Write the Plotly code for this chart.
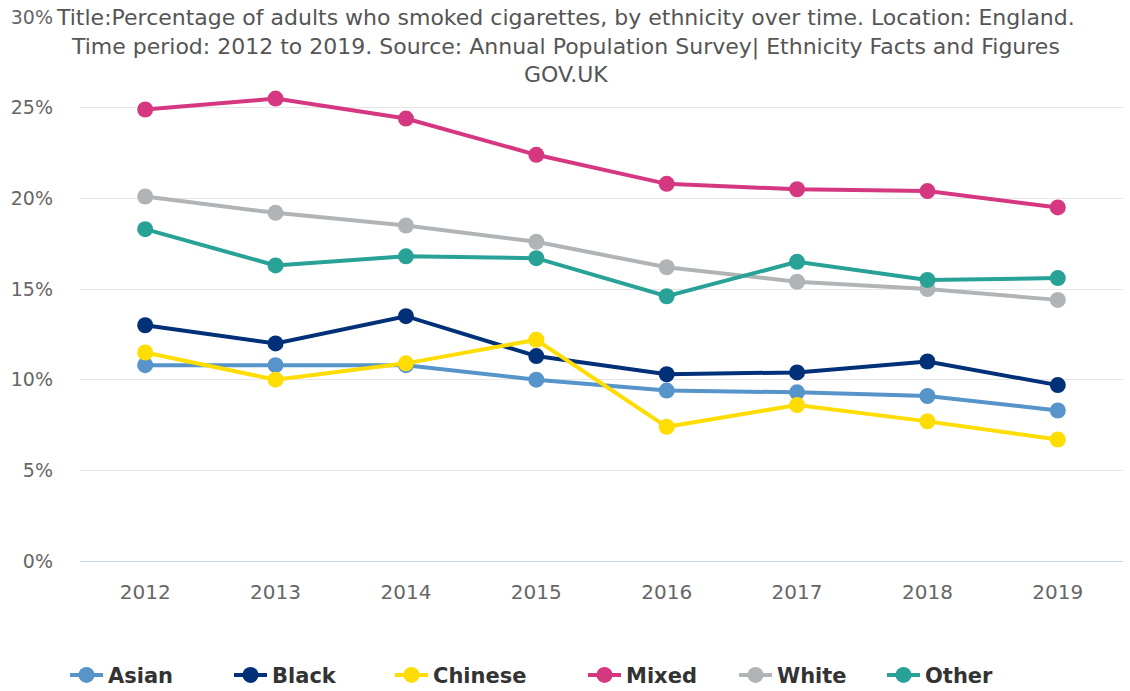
import plotly.graph_objects as go

years = ["2012", "2013", "2014", "2015", "2016", "2017", "2018", "2019"]
asian = [10.8, 10.8, 10.8, 10.0, 9.4, 9.3, 9.1, 8.3]
black = [13.0, 12.0, 13.5, 11.3, 10.3, 10.4, 11.0, 9.7]
chinese = [11.5, 10.0, 10.9, 12.2, 7.4, 8.6, 7.7, 6.7]
mixed = [24.9, 25.5, 24.4, 22.4, 20.8, 20.5, 20.4, 19.5]
white = [20.1, 19.2, 18.5, 17.6, 16.2, 15.4, 15.0, 14.4]
other = [18.3, 16.3, 16.8, 16.7, 14.6, 16.5, 15.5, 15.6]

series = [
    ("Asian", asian, "#5694ca"),
    ("Black", black, "#003078"),
    ("Chinese", chinese, "#ffdd00"),
    ("Mixed", mixed, "#d53880"),
    ("White", white, "#b1b4b6"),
    ("Other", other, "#28a197"),
]
# left pixel of each legend entry (symbol start)
legend_px = [70, 234, 395, 588, 739, 887]

PL, PR = 80, 1123
PW = PR - PL
FONT = "DejaVu Sans"

fig = go.Figure()
legends = {}
for i, ((name, vals, color), lx) in enumerate(zip(series, legend_px)):
    lname = "legend" if i == 0 else f"legend{i+1}"
    fig.add_trace(go.Scatter(
        x=years, y=vals, name=name, mode="lines+markers",
        line=dict(color=color, width=4),
        marker=dict(color=color, size=16, symbol="circle"),
        legend=lname,
    ))
    legends[lname] = dict(
        orientation="h", x=(lx - 5 - PL) / PW, xanchor="left", xref="paper",
        y=-0.21, yanchor="middle", bgcolor="rgba(0,0,0,0)",
        font=dict(family=FONT, size=21, color="#333333", weight="bold"),
        itemwidth=33,
    )

title_text = ("Title:Percentage of adults who smoked cigarettes, by ethnicity over time. Location: England.<br>"
              "Time period: 2012 to 2019. Source: Annual Population Survey| Ethnicity Facts and Figures<br>"
              "GOV.UK")

fig.add_annotation(text=title_text, xref="paper", yref="paper",
                   x=(565 - PL) / PW, y=(561 - 3) / 544, xanchor="center", yanchor="top",
                   showarrow=False, align="center",
                   font=dict(family=FONT, size=22, color="#555555"))

fig.update_layout(
    width=1130, height=691,
    margin=dict(l=PL, r=1130 - PR, t=17, b=130, autoexpand=False),
    paper_bgcolor="white", plot_bgcolor="white",
    font=dict(family=FONT, color="#666666"),
    showlegend=True,
    xaxis=dict(type="category", range=[-0.5, 7.5], showgrid=False, showline=False,
               ticks="", tickfont=dict(family=FONT, size=20, color="#666666"), ticklabelstandoff=17),
    yaxis=dict(range=[0, 30], tickvals=[0, 5, 10, 15, 20, 25, 30],
               ticktext=["0%", "5%", "10%", "15%", "20%", "25%", "30%"],
               showgrid=True, gridcolor="#e6e6e6", gridwidth=1,
               zeroline=True, zerolinecolor="#ccd6eb", zerolinewidth=1,
               tickfont=dict(family=FONT, size=19, color="#666666"), ticklabelstandoff=26),
    **legends,
)

fig.write_html("out.html")
